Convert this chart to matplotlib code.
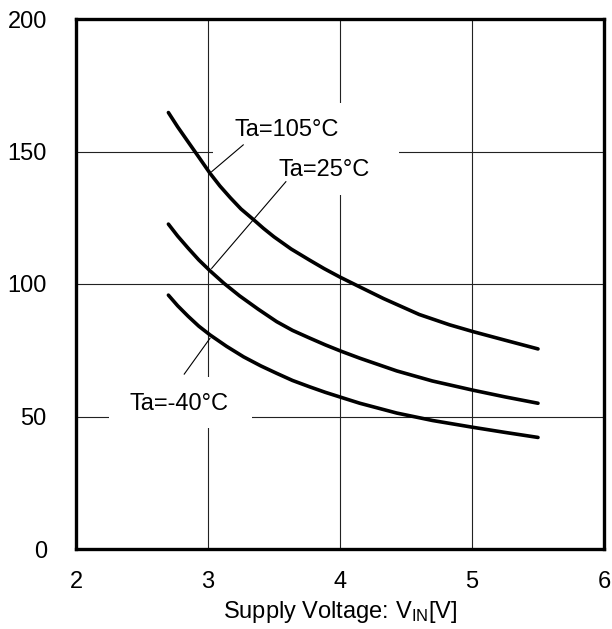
import matplotlib
matplotlib.use("Agg")
import matplotlib.pyplot as plt
from matplotlib.patches import Rectangle

plt.rcParams['font.family'] = ['Liberation Sans', 'DejaVu Sans']
plt.rcParams['mathtext.fontset'] = 'custom'
plt.rcParams['mathtext.rm'] = 'Liberation Sans'
plt.rcParams['mathtext.it'] = 'Liberation Sans'

# Data
v_105 = [2.70, 2.77, 2.84, 2.93, 3.015, 3.09, 3.17, 3.25, 3.34, 3.42, 3.50, 3.63, 3.77, 3.88, 4.0, 4.15, 4.33, 4.60, 4.83, 5.01, 5.25, 5.50]
i_105 = [164.7, 159.3, 154.3, 147.9, 141.8, 137.0, 132.5, 128.3, 124.5, 121.0, 117.8, 113.2, 109.0, 105.8, 102.6, 98.9, 94.5, 88.5, 84.6, 82.0, 78.8, 75.5]
v_25 = [2.70, 2.77, 2.85, 2.93, 3.015, 3.12, 3.24, 3.38, 3.52, 3.64, 3.77, 3.89, 4.01, 4.15, 4.43, 4.70, 5.01, 5.25, 5.50]
i_25 = [122.6, 118.1, 113.5, 109.1, 105.0, 100.3, 95.5, 90.5, 85.8, 82.5, 79.6, 77.0, 74.6, 72.0, 67.2, 63.4, 59.9, 57.4, 55.0]
v_m40 = [2.70, 2.77, 2.85, 2.93, 3.015, 3.14, 3.27, 3.40, 3.52, 3.64, 3.77, 3.89, 4.01, 4.15, 4.43, 4.70, 5.01, 5.25, 5.50]
i_m40 = [95.8, 91.8, 87.8, 84.1, 80.8, 76.5, 72.5, 69.1, 66.3, 63.6, 61.2, 59.1, 57.2, 55.0, 51.3, 48.5, 45.9, 44.0, 42.1]

labels = ['Ta=105°C', 'Ta=25°C', 'Ta=-40°C']
label_pos = [(3.197, 155.8), (3.533, 140.8), (2.409, 52.5)]
leaders = [((3.028, 142.4), (3.267, 152.5)),
           ((3.028, 105.9), (3.59, 138.6)),
           ((3.015, 79.5), (2.82, 66.0))]

xticks = [2, 3, 4, 5, 6]
yticks = [0, 50, 100, 150, 200]

fig = plt.figure(figsize=(6.12, 6.29), dpi=100)
ax = fig.add_axes([76/612, 1 - 549/629, (604-76)/612, (549-19)/629])
ax.set_xlim(2, 6)
ax.set_ylim(0, 200)
ax.set_xticks(xticks)
ax.set_yticks(yticks)
ax.tick_params(length=0, labelsize=17)
ax.tick_params(axis='y', pad=21)
ax.tick_params(axis='x', pad=16)
ax.grid(True, color='#222222', lw=0.8, zorder=0)
ax.set_axisbelow(True)
for s in ax.spines.values():
    s.set_linewidth(2.4)
    s.set_zorder(5)

# white boxes behind labels (break gridlines)
ax.add_patch(Rectangle((3.04, 133.6), 4.45 - 3.04, 168.3 - 133.6,
                       facecolor='white', edgecolor='none', zorder=1))
ax.add_patch(Rectangle((2.25, 45.7), 3.333 - 2.25, 64.9 - 45.7,
                       facecolor='white', edgecolor='none', zorder=1))

for v, i in [(v_105, i_105), (v_25, i_25), (v_m40, i_m40)]:
    ax.plot(v, i, color='black', lw=2.6, zorder=3, solid_capstyle='round',
            solid_joinstyle='round')

for (p0, p1) in leaders:
    ax.plot([p0[0], p1[0]], [p0[1], p1[1]], color='black', lw=0.8, zorder=3)

for lab, (x, y) in zip(labels, label_pos):
    ax.text(x, y, lab, fontsize=17, ha='left', va='baseline', zorder=4)

ax.set_xlabel(r'Supply Voltage: V$_{\mathrm{IN}}$[V]', fontsize=17, labelpad=4)

fig.savefig('out.png', dpi=100)
